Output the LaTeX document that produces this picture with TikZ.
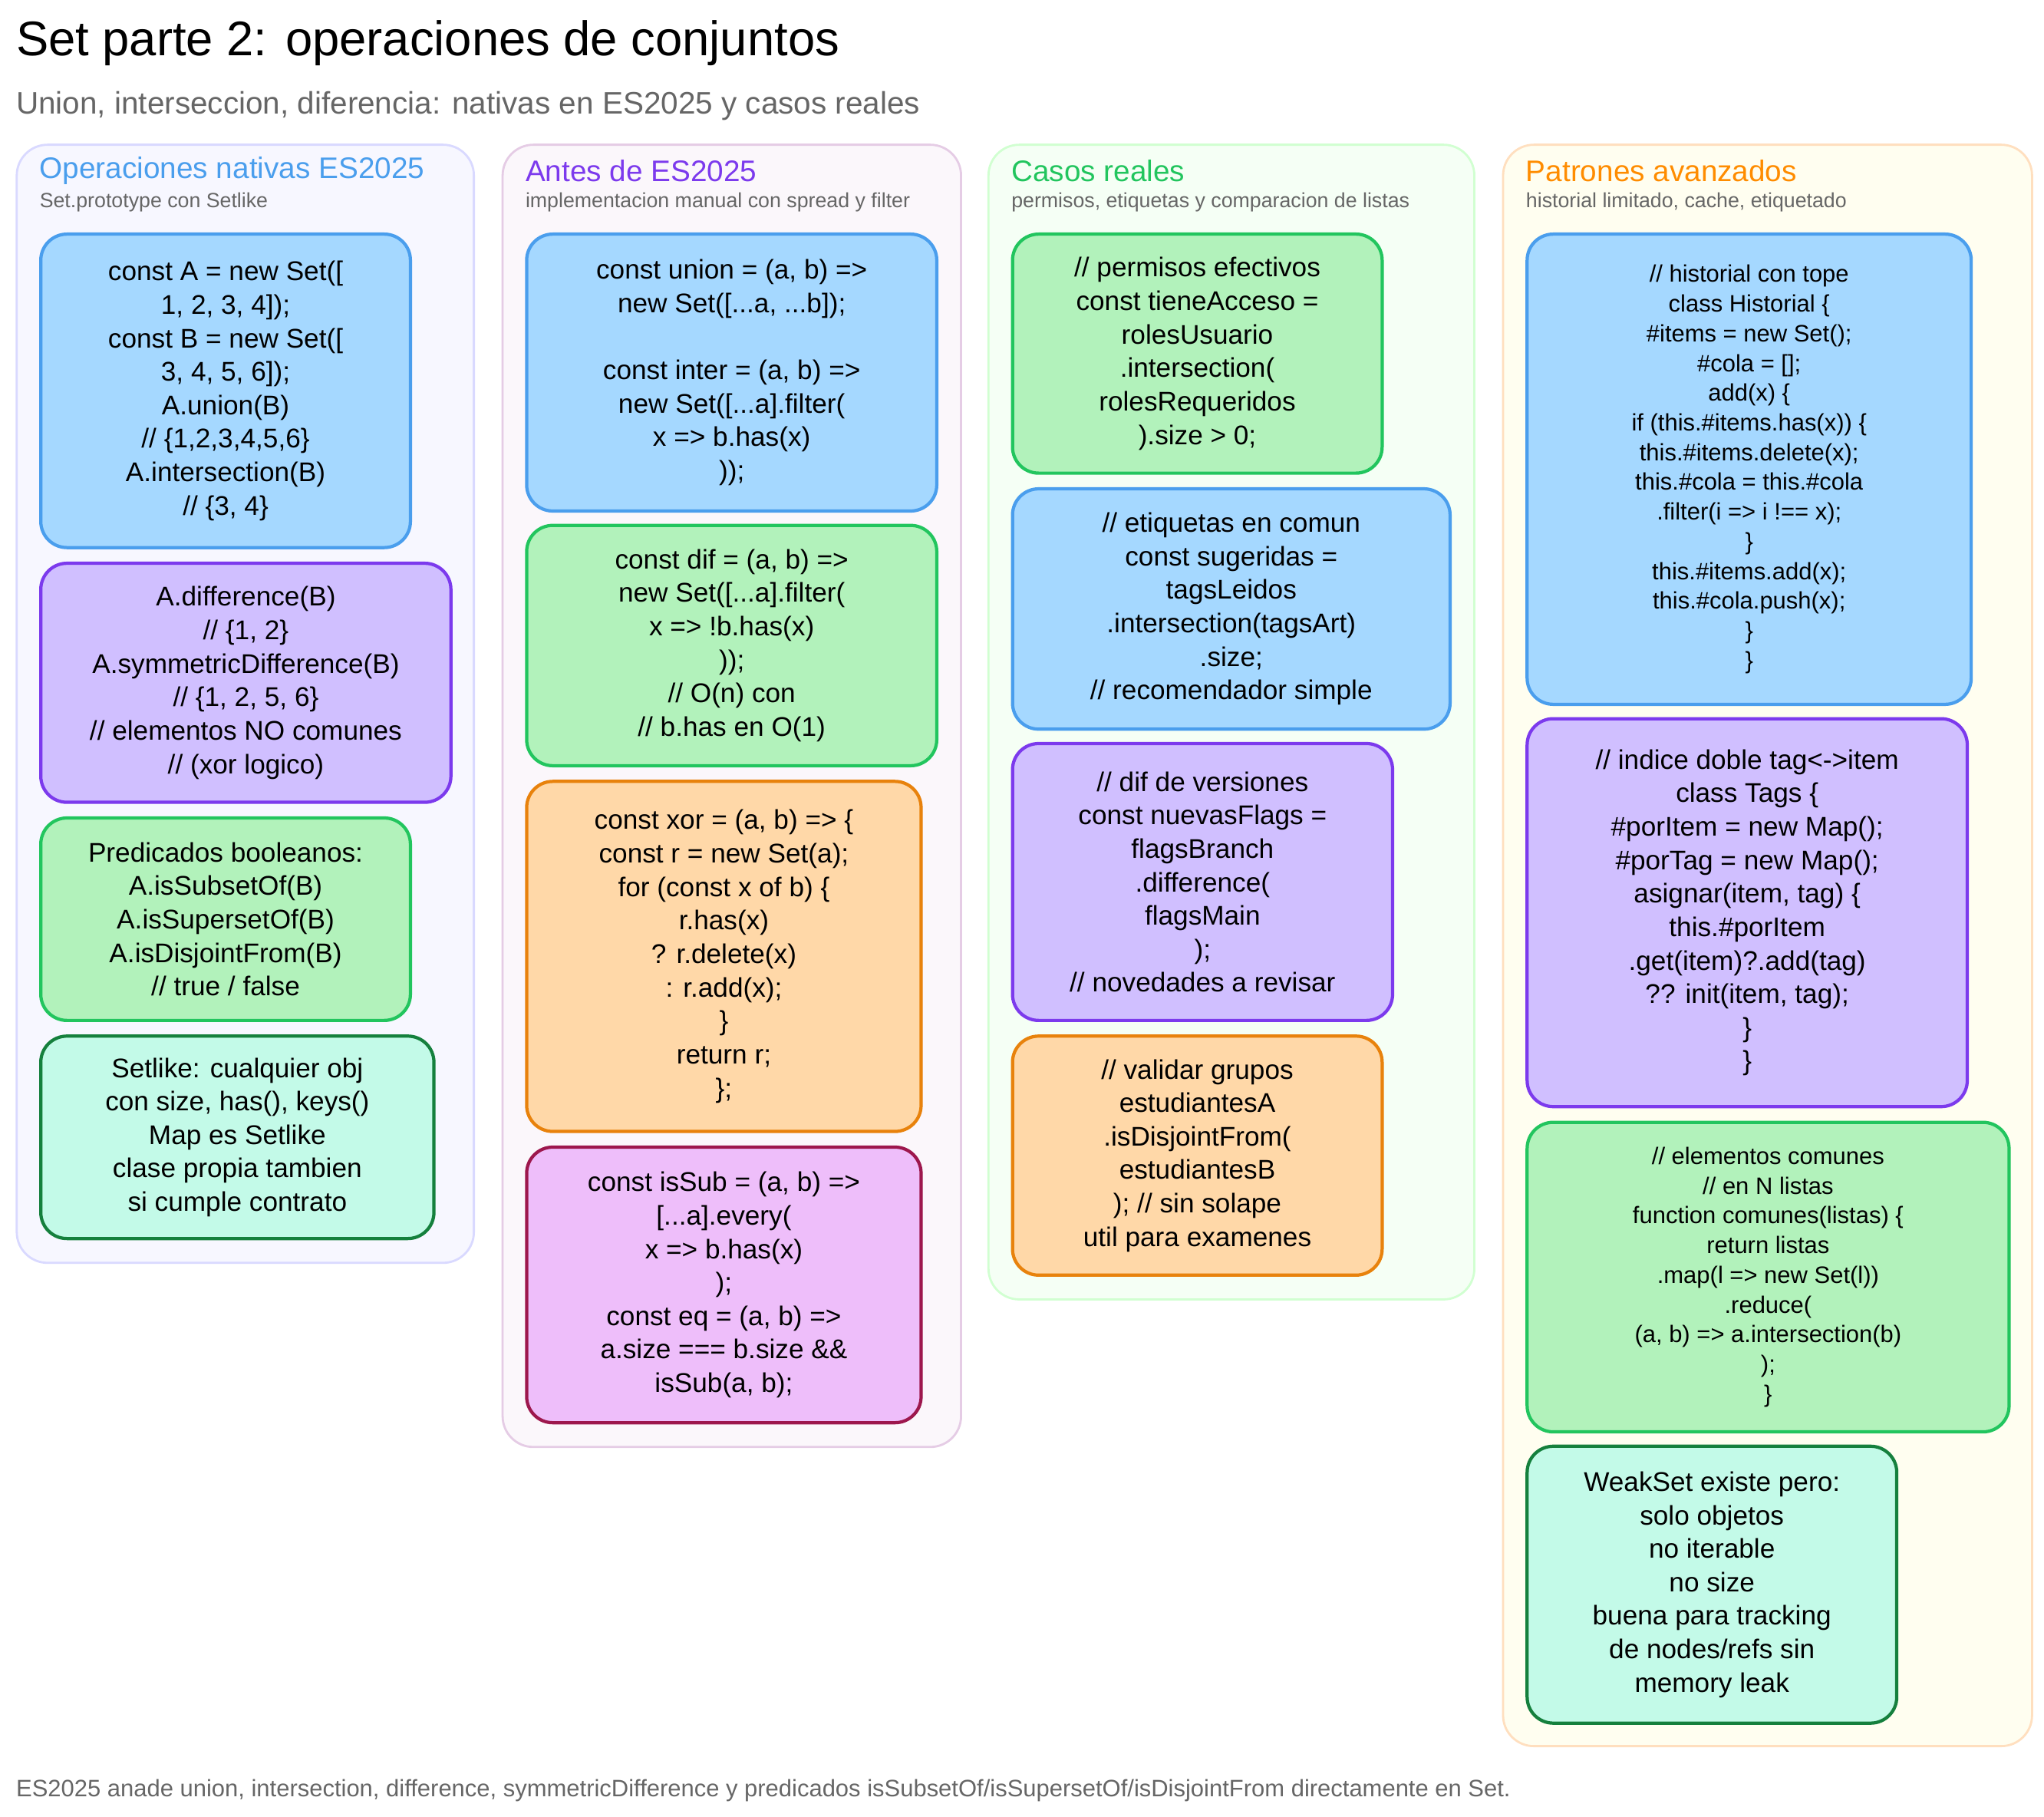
\documentclass[tikz,border=0pt]{standalone}
\usepackage{fontspec}
\setmainfont{Liberation Sans}
\usetikzlibrary{positioning}
\definecolor{bluef}{HTML}{A5D8FF}\definecolor{blued}{HTML}{4A9EED}
\definecolor{purpf}{HTML}{D0BFFF}\definecolor{purpd}{HTML}{7C3AED}
\definecolor{grnf}{HTML}{B2F2BB}\definecolor{grnd}{HTML}{22C55E}
\definecolor{tealf}{HTML}{C3FAE8}\definecolor{teald}{HTML}{15803D}
\definecolor{orgf}{HTML}{FFD8A8}\definecolor{orgd}{HTML}{E8820C}
\definecolor{pinkf}{HTML}{EEBEFA}\definecolor{pinkd}{HTML}{9D174D}
\definecolor{gtxt}{HTML}{666666}
\begin{document}
\begin{tikzpicture}[x=0.017cm,y=-0.017cm,
    sz/.style 2 args={minimum width=#1*0.017cm, minimum height=#2*0.017cm},
    card/.style 2 args={rectangle, rounded corners=0.34cm, line width=1.2pt, fill=#1, draw=#2,
        anchor=north west, align=center, inner sep=2pt, font=\fontsize{10}{12.4}\selectfont},
    small/.style={font=\fontsize{8.8}{11}\selectfont},
    frame/.style 2 args={rectangle, rounded corners=0.4cm, line width=0.8pt, fill=#1, draw=#2, anchor=north west},
    ctitle/.style={anchor=west, inner sep=0pt, font=\fontsize{11}{13}\selectfont},
    csub/.style={anchor=west, inner sep=0pt, text=gtxt, font=\fontsize{7.6}{9}\selectfont}]
\useasboundingbox (0,0) rectangle (1565,1391);
% titles
\node[anchor=west, inner sep=0pt, font=\fontsize{18}{22}\selectfont] (title) at (12,33) {Set parte 2: operaciones de conjuntos};
\node[anchor=west, inner sep=0pt, text=gtxt, font=\fontsize{11.5}{14}\selectfont] (subtitle) at (12,81) {Union, interseccion, diferencia: nativas en ES2025 y casos reales};
% column frames
\node[frame={blue!3}{blue!15}, sz={350}{856}] (col1) at (12,110) {};
\node[frame={violet!3}{violet!20}, sz={351}{997}] (col2) at (384,110) {};
\node[frame={green!4}{green!18}, sz={372}{884}] (col3) at (756,110) {};
\node[frame={yellow!6}{orange!25}, sz={405}{1226}] (col4) at (1150,110) {};
\node[ctitle, text=blued] (t1) at (30,131) {Operaciones nativas ES2025};
\node[csub] (s1) at (30,155) {Set.prototype con Setlike};
\node[ctitle, text=purpd] (t2) at (402,131) {Antes de ES2025};
\node[csub] (s2) at (402,155) {implementacion manual con spread y filter};
\node[ctitle, text=grnd] (t3) at (774,131) {Casos reales};
\node[csub] (s3) at (774,155) {permisos, etiquetas y comparacion de listas};
\node[ctitle, text=orange!90!yellow] (t4) at (1168,131) {Patrones avanzados};
\node[csub] (s4) at (1168,155) {historial limitado, cache, etiquetado};
% column 1
\node[card={bluef}{blued}, sz={283}{240}] (a1) at (30,178) {const A = new Set([\\ 1, 2, 3, 4]);\\const B = new Set([\\ 3, 4, 5, 6]);\\A.union(B)\\// \{1,2,3,4,5,6\}\\A.intersection(B)\\// \{3, 4\}};
\node[card={purpf}{purpd}, sz={314}{183}] (a2) at (30,430) {A.difference(B)\\// \{1, 2\}\\A.symmetricDifference(B)\\// \{1, 2, 5, 6\}\\// elementos NO comunes\\// (xor logico)};
\node[card={grnf}{grnd}, sz={283}{155}] (a3) at (30,625) {Predicados booleanos:\\A.isSubsetOf(B)\\A.isSupersetOf(B)\\A.isDisjointFrom(B)\\// true / false};
\node[card={tealf}{teald}, sz={301}{155}] (a4) at (30,792) {Setlike: cualquier obj\\con size, has(), keys()\\Map es Setlike\\clase propia tambien\\si cumple contrato};
% column 2
\node[card={bluef}{blued}, sz={314}{212}] (b1) at (402,178) {const union = (a, b) =>\\ new Set([...a, ...b]);\\[12.4pt]const inter = (a, b) =>\\ new Set([...a].filter(\\ x => b.has(x)\\));};
\node[card={grnf}{grnd}, sz={314}{184}] (b2) at (402,401) {const dif = (a, b) =>\\ new Set([...a].filter(\\ x => !b.has(x)\\));\\// O(n) con\\// b.has en O(1)};
\node[card={orgf}{orgd}, sz={302}{268}] (b3) at (402,597) {const xor = (a, b) => \{\\ const r = new Set(a);\\ for (const x of b) \{\\ r.has(x)\\ ? r.delete(x)\\ : r.add(x);\\\}\\return r;\\\};};
\node[card={pinkf}{pinkd}, sz={302}{211}] (b4) at (402,877) {const isSub = (a, b) =>\\{}[...a].every(\\ x => b.has(x)\\);\\const eq = (a, b) =>\\ a.size === b.size \&\&\\ isSub(a, b);};
% column 3
\node[card={grnf}{grnd}, sz={283}{183}] (c1) at (774,178) {// permisos efectivos\\const tieneAcceso =\\rolesUsuario\\.intersection(\\rolesRequeridos\\).size > 0;};
\node[card={bluef}{blued}, sz={335}{184}] (c2) at (774,373) {// etiquetas en comun\\const sugeridas =\\tagsLeidos\\.intersection(tagsArt)\\.size;\\// recomendador simple};
\node[card={purpf}{purpd}, sz={291}{212}] (c3) at (774,568) {// dif de versiones\\const nuevasFlags =\\flagsBranch\\.difference(\\flagsMain\\);\\// novedades a revisar};
\node[card={orgf}{orgd}, sz={283}{183}] (c4) at (774,792) {// validar grupos\\estudiantesA\\.isDisjointFrom(\\estudiantesB\\); // sin solape\\util para examenes};
% column 4
\node[card={bluef}{blued}, small, sz={340}{360}] (d1) at (1168,178) {// historial con tope\\class Historial \{\\\#items = new Set();\\\#cola = {[]};\\add(x) \{\\if (this.\#items.has(x)) \{\\this.\#items.delete(x);\\this.\#cola = this.\#cola\\.filter(i => i !== x);\\\}\\this.\#items.add(x);\\this.\#cola.push(x);\\\}\\\}};
\node[card={purpf}{purpd}, sz={337}{297}] (d2) at (1168,549) {// indice doble tag<->item\\class Tags \{\\\#porItem = new Map();\\\#porTag = new Map();\\asignar(item, tag) \{\\this.\#porItem\\.get(item)?.add(tag)\\?? init(item, tag);\\\}\\\}};
\node[card={grnf}{grnd}, small, sz={369}{237}] (d3) at (1168,858) {// elementos comunes\\// en N listas\\function comunes(listas) \{\\return listas\\.map(l => new Set(l))\\.reduce(\\(a, b) => a.intersection(b)\\);\\\}};
\node[card={tealf}{teald}, sz={283}{212}] (d4) at (1168,1106) {WeakSet existe pero:\\solo objetos\\no iterable\\no size\\buena para tracking\\de nodes/refs sin\\memory leak};
% footer
\node[anchor=west, inner sep=0pt, text=gtxt, font=\fontsize{8.8}{11}\selectfont] (footer) at (12,1371) {ES2025 anade union, intersection, difference, symmetricDifference y predicados isSubsetOf/isSupersetOf/isDisjointFrom directamente en Set.};
\end{tikzpicture}
\end{document}
